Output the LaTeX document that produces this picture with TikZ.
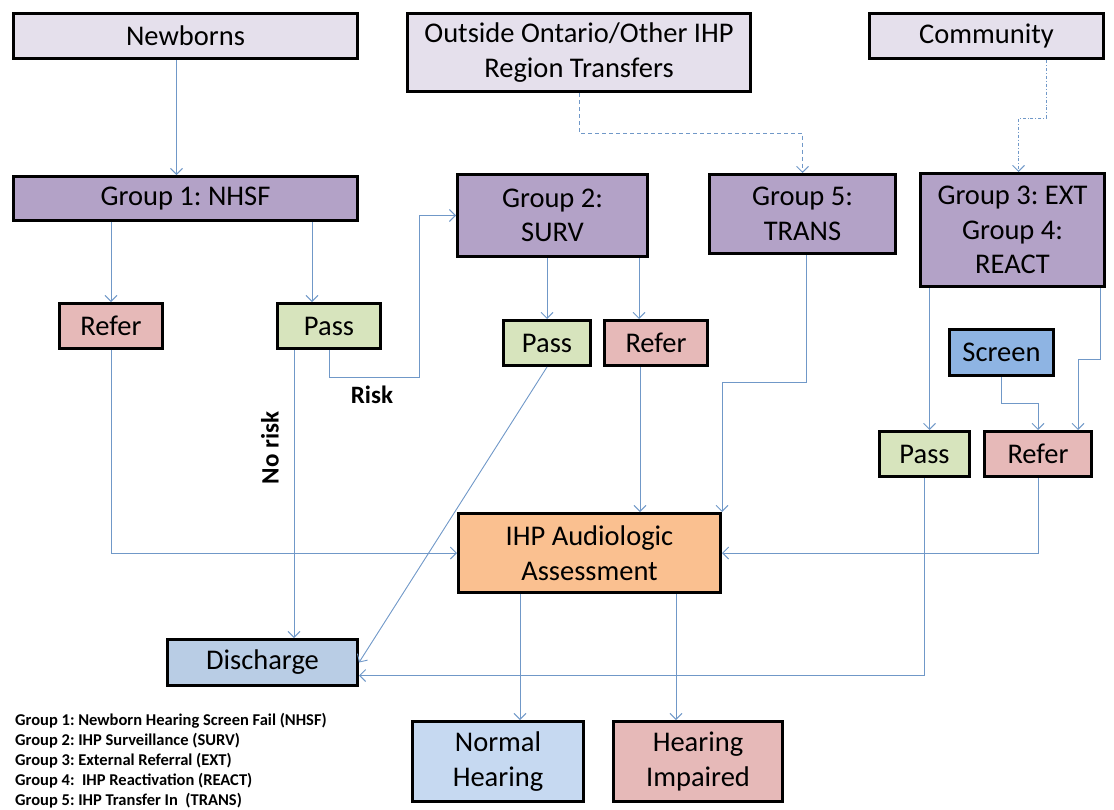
\documentclass[tikz,border=0pt]{standalone}
\usepackage{fontspec}
\setmainfont{Carlito}
\frenchspacing
\usetikzlibrary{arrows.meta}
\definecolor{topbox}{HTML}{E5E0EC}
\definecolor{grpbox}{HTML}{B3A2C7}
\definecolor{referbox}{HTML}{E6B9B8}
\definecolor{passbox}{HTML}{D7E4BD}
\definecolor{screenbox}{HTML}{8EB4E3}
\definecolor{dischbox}{HTML}{B9CDE5}
\definecolor{normbox}{HTML}{C6D9F1}
\definecolor{assessbox}{HTML}{FAC090}
\definecolor{flowline}{HTML}{7098C8}
\tikzset{
    box/.style={draw=black, line width=3pt, rectangle, align=center, inner sep=0pt,
        font=\fontsize{28.5}{34.5}\selectfont},
    flow/.style={draw=flowline, line width=0.9pt, -{Straight Barb[length=6pt,width=12pt]}},
    tag/.style={font=\bfseries\fontsize{25}{30}\selectfont, inner sep=0pt},
    legend/.style={font=\bfseries\fontsize{16.5}{20}\selectfont, align=left, inner sep=0pt}
}
\begin{document}
\begin{tikzpicture}[x=1pt, y=-1pt]
    \useasboundingbox (0,0) rectangle (1114,809);

    \node[box, fill=topbox, minimum width=344pt, minimum height=45pt] (newb) at (185.5,36) {Newborns};
    \node[box, fill=topbox, minimum width=343pt, minimum height=78pt] (outs) at (579,52.5) {Outside Ontario/Other IHP\\Region Transfers};
    \node[box, fill=topbox, minimum width=234pt, minimum height=45pt] (comm) at (986.5,36) {Community};

    \node[box, fill=grpbox, minimum width=344pt, minimum height=44pt] (g1) at (185.5,198.5) {Group 1: NHSF};
    \node[box, fill=grpbox, minimum width=190pt, minimum height=82pt] (g2) at (552.5,215.5) {Group 2:\\SURV};
    \node[box, fill=grpbox, minimum width=186pt, minimum height=79pt] (g5) at (802.5,214) {Group 5:\\TRANS};
    \node[box, fill=grpbox, minimum width=184pt, minimum height=113pt] (g34) at (1012.5,230) {Group 3: EXT\\Group 4:\\REACT};

    \node[box, fill=referbox, minimum width=103pt, minimum height=45pt] (ref1) at (111,326) {Refer};
    \node[box, fill=passbox, minimum width=103pt, minimum height=45pt] (pas1) at (329,326) {Pass};
    \node[box, fill=passbox, minimum width=87pt, minimum height=45pt] (pas2) at (547,343) {Pass};
    \node[box, fill=referbox, minimum width=103pt, minimum height=45pt] (ref2) at (656,343) {Refer};
    \node[box, fill=screenbox, minimum width=104pt, minimum height=46pt] (scr) at (1001.5,352.5) {Screen};
    \node[box, fill=passbox, minimum width=90pt, minimum height=45pt] (pas3) at (924.5,454) {Pass};
    \node[box, fill=referbox, minimum width=107pt, minimum height=45pt] (ref3) at (1038,454) {Refer};

    \node[box, fill=assessbox, minimum width=262pt, minimum height=79pt] (ass) at (589.5,553) {IHP Audiologic\\Assessment};
    \node[box, fill=dischbox, minimum width=190pt, minimum height=46pt] (dis) at (262.5,662.5) {Discharge};
    \node[box, fill=normbox, minimum width=171pt, minimum height=80pt] (nor) at (498,761.5) {Normal\\Hearing};
    \node[box, fill=referbox, minimum width=169pt, minimum height=80pt] (imp) at (698,761.5) {Hearing\\Impaired};

    \node[tag] (risk) at (372,395) {Risk};
    \node[tag, rotate=90] (norisk) at (270,448) {No risk};
    \node[legend, anchor=north west] (key) at (15,713) {Group 1: Newborn Hearing Screen Fail (NHSF)\\
        Group 2: IHP Surveillance (SURV)\\
        Group 3: External Referral (EXT)\\
        Group 4:\ \ IHP Reactivation (REACT)\\
        Group 5: IHP Transfer In\ \ (TRANS)};

    \draw[flow] ([xshift=-9pt]newb.south) -- ([xshift=-9pt]g1.north);
    \draw[flow, dash pattern=on 4pt off 3pt] (outs.south) -- ++(0,40) -| (g5.north);
    \draw[flow, dash dot] ([xshift=60pt]comm.south) -- ++(0,58) -| ([xshift=6pt]g34.north);

    \draw[flow] (ref1.north |- g1.south) -- (ref1.north);
    \draw[flow] ([xshift=-17pt]pas1.north |- g1.south) -- ([xshift=-17pt]pas1.north);
    \draw[flow] (pas1.south) -- ++(0,27) -| ([xshift=-37pt]g2.west) -- (g2.west);
    \draw[flow] ([xshift=-35pt]pas1.south) -- ([xshift=-35pt]pas1.south |- dis.north);
    \draw[flow] (ref1.south) |- (ass.west);

    \draw[flow] (pas2.north |- g2.south) -- (pas2.north);
    \draw[flow] ([xshift=-17pt]ref2.north |- g2.south) -- ([xshift=-17pt]ref2.north);
    \draw[flow] (pas2.south) -- (dis.east);
    \draw[flow] ([xshift=-16pt]ref2.south) -- ([xshift=-16pt]ref2.south |- ass.north);
    \draw[flow] ([xshift=4pt]g5.south) -- ++(0,127) -| (ass.north east);

    \draw[flow] ([xshift=5pt]pas3.north |- g34.south) -- ([xshift=5pt]pas3.north);
    \draw[flow] ([xshift=88pt]g34.south) -- ++(0,71) -| ([xshift=40pt]ref3.north);
    \draw[flow] (scr.south) -- ++(0,26) -| (ref3.north);
    \draw[flow] (ref3.south) |- (ass.east);
    \draw[flow] (pas3.south) |- ([yshift=-13pt]dis.east);

    \draw[flow] ([xshift=22pt]nor.north |- ass.south) -- ([xshift=22pt]nor.north);
    \draw[flow] ([xshift=-22pt]imp.north |- ass.south) -- ([xshift=-22pt]imp.north);
\end{tikzpicture}
\end{document}
